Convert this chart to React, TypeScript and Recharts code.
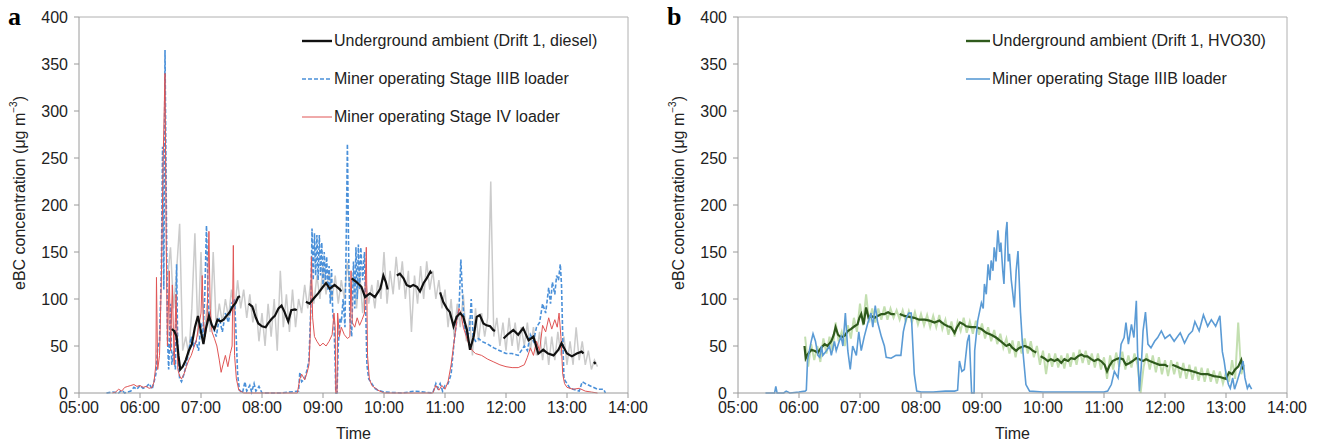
import React from 'react';
import { LineChart, Line, XAxis, YAxis, ReferenceLine } from 'recharts';

// ---------- shared axis data ----------
const timeTicks = [5, 6, 7, 8, 9, 10, 11, 12, 13, 14];
const timeTickLabels = ['05:00', '06:00', '07:00', '08:00', '09:00', '10:00', '11:00', '12:00', '13:00', '14:00'];
const concTicks = [0, 50, 100, 150, 200, 250, 300, 350, 400];

// ---------- panel a ----------
// raw ambient (gray), 3-minute grid starting 06:27
const ambientRawAStart = 6.45;
const ambientRawAStep = 0.05;
const ambientRawA = [
  120, 155, 90, 130, 180, 45, 60, 40, 90, 170, 60, 150, 55, 95, 65, 150, 70, 95, 75, 100,
  80, 110, 85, 120, 90, 110, 80, 105, 75, 95, 55, 85, 50, 95, 60, 100, 45, 130, 70, 105,
  65, 110, 70, 100, 85, 115, 90, 120, 95, 125, 100, 135, 105, 130, 100, 125, 95, 120, 100, 140,
  105, 125, 90, 130, 85, 120, 95, 115, 90, 120, 100, 150, 95, 130, 105, 145, 110, 140, 100, 130,
  65, 125, 95, 135, 100, 140, 110, 130, 100, 120, 90, 110, 70, 100, 60, 95, 70, 105, 55, 80,
  40, 90, 55, 85, 60, 80, 225, 60, 80, 50, 75, 45, 80, 50, 75, 45, 70, 50, 75, 45,
  70, 40, 65, 35, 60, 30, 60, 35, 65, 40, 60, 30, 55, 30, 70, 35, 55, 30, 45, 25,
  35, 28,
];

// smoothed ambient (black) [time in h, value]; null = gap
const ambientA: [number, number | null][] = [
  [6.52, 68], [6.56, 66], [6.6, 60], [6.63, 40], [6.66, 25], [6.7, 28], [6.75, 35], [6.8, 45], [6.85, 52],
  [6.9, 70], [6.95, 82], [7.0, 65], [7.04, 52], [7.08, 68], [7.13, 82], [7.18, 72], [7.22, 68], [7.27, 78],
  [7.32, 76], [7.37, 78], [7.42, 82], [7.47, 86], [7.52, 92], [7.57, 96], [7.61, 102], [7.64, 103],
  [7.7, null],
  [7.78, 95], [7.84, 92], [7.9, 80], [7.94, 74], [8.0, 71], [8.06, 70], [8.1, 74], [8.16, 79], [8.21, 82],
  [8.27, 90], [8.32, 93], [8.37, 86], [8.43, 76], [8.48, 88], [8.54, 89], [8.57, 88],
  [8.65, null],
  [8.72, 97], [8.78, 95], [8.84, 100], [8.92, 106], [9.0, 113], [9.05, 117], [9.11, 111], [9.19, 115],
  [9.28, 110], [9.3, 108],
  [9.4, null],
  [9.47, 122], [9.55, 118], [9.63, 113], [9.69, 102], [9.73, 104], [9.77, 106], [9.85, 102], [9.94, 111],
  [9.99, 125], [10.03, 118], [10.06, 110],
  [10.15, null],
  [10.21, 125], [10.26, 127], [10.32, 122], [10.37, 115], [10.43, 113], [10.48, 115], [10.54, 113],
  [10.59, 108], [10.65, 117], [10.7, 122], [10.76, 129], [10.78, 127],
  [10.85, null],
  [10.92, 107], [10.97, 97], [11.03, 90], [11.08, 86], [11.14, 71], [11.19, 81], [11.25, 85], [11.3, 81],
  [11.36, 67], [11.41, 46], [11.47, 60], [11.52, 81], [11.57, 83], [11.63, 74], [11.68, 72], [11.74, 71],
  [11.79, 67], [11.82, 66],
  [11.9, null],
  [11.96, 58], [12.04, 63], [12.12, 67], [12.2, 62], [12.28, 69], [12.37, 56], [12.45, 60], [12.53, 42],
  [12.61, 46], [12.69, 42], [12.78, 40], [12.86, 46], [12.91, 53], [13.0, 42], [13.08, 39], [13.16, 42],
  [13.24, 44], [13.27, 42],
  [13.35, null],
  [13.44, 33], [13.47, 31],
];

// miner, Stage IIIB loader (blue dashed)
const stageIIIBA: [number, number][] = [
  [5.45, 0], [5.55, 1], [5.65, 0], [5.7, 3], [5.75, 0], [5.85, 2], [5.9, 6], [5.95, 4], [6.0, 8], [6.05, 5],
  [6.1, 6], [6.15, 10], [6.2, 4], [6.23, 12], [6.26, 20], [6.29, 48], [6.32, 55], [6.35, 130], [6.37, 262],
  [6.39, 110], [6.41, 365], [6.43, 210], [6.45, 60], [6.47, 25], [6.5, 95], [6.52, 30], [6.55, 45],
  [6.58, 25], [6.6, 137], [6.62, 40], [6.65, 15], [6.68, 12], [6.72, 20], [6.76, 30], [6.8, 45], [6.84, 60],
  [6.88, 50], [6.92, 55], [6.96, 45], [7.0, 75], [7.03, 60], [7.06, 100], [7.09, 178], [7.12, 95],
  [7.15, 75], [7.2, 70], [7.25, 60], [7.3, 80], [7.35, 65], [7.4, 85], [7.45, 75], [7.5, 95], [7.55, 100],
  [7.58, 55], [7.6, 20], [7.63, 3], [7.68, 0], [7.72, 12], [7.75, 2], [7.8, 8], [7.83, 1], [7.87, 10],
  [7.9, 2], [7.95, 7], [8.0, 0], [8.3, 0], [8.6, 2], [8.62, 22], [8.65, 12], [8.7, 15], [8.74, 25],
  [8.77, 35], [8.8, 90], [8.82, 175], [8.84, 120], [8.86, 170], [8.88, 125], [8.9, 168], [8.92, 120],
  [8.94, 168], [8.96, 125], [8.98, 160], [9.0, 115], [9.02, 150], [9.04, 120], [9.06, 145], [9.08, 110],
  [9.1, 135], [9.12, 95], [9.14, 132], [9.16, 85], [9.18, 75], [9.2, 30], [9.21, 0], [9.23, 0], [9.25, 50],
  [9.28, 80], [9.3, 75], [9.33, 100], [9.36, 70], [9.38, 160], [9.4, 265], [9.42, 150], [9.44, 80],
  [9.47, 60], [9.5, 140], [9.52, 90], [9.54, 155], [9.56, 100], [9.58, 158], [9.6, 110], [9.62, 155],
  [9.65, 120], [9.68, 150], [9.7, 90], [9.72, 30], [9.75, 15], [9.8, 10], [9.85, 5], [9.9, 3], [10.0, 1],
  [10.3, 0], [10.5, 2], [10.8, 0], [10.85, 10], [10.88, 5], [10.92, 10], [10.96, 2], [11.0, 8], [11.05, 10],
  [11.1, 20], [11.15, 55], [11.2, 80], [11.23, 90], [11.26, 142], [11.29, 100], [11.32, 70], [11.36, 60],
  [11.4, 65], [11.43, 100], [11.46, 60], [11.5, 55], [11.55, 58], [11.6, 55], [11.7, 52], [11.8, 48],
  [11.9, 45], [12.0, 42], [12.1, 42], [12.2, 40], [12.3, 50], [12.35, 45], [12.4, 62], [12.45, 55],
  [12.5, 70], [12.55, 75], [12.6, 95], [12.65, 85], [12.7, 112], [12.73, 95], [12.76, 118], [12.8, 105],
  [12.83, 125], [12.86, 120], [12.89, 137], [12.91, 115], [12.93, 60], [12.95, 15], [13.0, 10], [13.05, 5],
  [13.1, 4], [13.2, 2], [13.25, 12], [13.3, 10], [13.4, 7], [13.5, 4], [13.6, 4], [13.63, 0],
];

// miner, Stage IV loader (red)
const stageIVA: [number, number][] = [
  [5.55, 0], [5.6, 1], [5.65, 4], [5.7, 2], [5.75, 6], [5.8, 7], [5.85, 8], [5.9, 9], [5.95, 7], [6.0, 8],
  [6.05, 6], [6.1, 7], [6.15, 5], [6.2, 6], [6.23, 12], [6.26, 30], [6.27, 123], [6.29, 25], [6.32, 40],
  [6.35, 120], [6.38, 250], [6.41, 340], [6.43, 160], [6.45, 50], [6.48, 130], [6.5, 45], [6.53, 115],
  [6.56, 30], [6.59, 105], [6.62, 25], [6.65, 18], [6.68, 15], [6.72, 20], [6.76, 28], [6.8, 35], [6.84, 40],
  [6.88, 48], [6.92, 55], [6.96, 70], [7.0, 85], [7.02, 125], [7.04, 75], [7.07, 60], [7.1, 80], [7.13, 172],
  [7.15, 90], [7.18, 65], [7.22, 58], [7.26, 50], [7.3, 35], [7.33, 22], [7.36, 30], [7.4, 40], [7.44, 28],
  [7.48, 42], [7.51, 50], [7.53, 157], [7.55, 40], [7.58, 15], [7.62, 3], [7.7, 0], [8.3, 0], [8.58, 0],
  [8.62, 15], [8.65, 20], [8.7, 14], [8.74, 22], [8.77, 30], [8.79, 60], [8.81, 145], [8.83, 80], [8.86, 60],
  [8.9, 55], [8.95, 50], [9.0, 53], [9.05, 50], [9.1, 55], [9.15, 62], [9.18, 85], [9.2, 70], [9.21, 0],
  [9.23, 0], [9.24, 85], [9.27, 60], [9.3, 70], [9.35, 62], [9.4, 58], [9.44, 60], [9.46, 130], [9.48, 75],
  [9.52, 70], [9.56, 80], [9.6, 72], [9.64, 78], [9.68, 85], [9.71, 155], [9.73, 40], [9.76, 15], [9.8, 8],
  [9.9, 3], [10.0, 0], [10.8, 0], [10.85, 8], [10.9, 3], [10.95, 8], [11.0, 4], [11.05, 12], [11.1, 30],
  [11.15, 55], [11.2, 80], [11.23, 90], [11.26, 85], [11.3, 70], [11.35, 60], [11.4, 50], [11.45, 45],
  [11.5, 42], [11.6, 40], [11.7, 36], [11.8, 33], [11.9, 30], [12.0, 28], [12.1, 27], [12.2, 27], [12.3, 30],
  [12.35, 38], [12.4, 48], [12.45, 40], [12.5, 55], [12.55, 45], [12.6, 72], [12.65, 65], [12.7, 80],
  [12.75, 68], [12.8, 78], [12.84, 70], [12.87, 85], [12.9, 60], [12.93, 20], [12.96, 10], [13.0, 6],
  [13.1, 4], [13.2, 5], [13.3, 2], [13.4, 1], [13.5, 0],
];

// ---------- panel b ----------
const ambientRawBStart = 6.1;
const ambientRawBStep = 0.05;
const ambientRawB = [
  60, 28, 52, 35, 50, 33, 58, 42, 60, 45, 75, 55, 65, 50, 72, 58, 80, 65, 95, 72,
  105, 75, 90, 75, 90, 78, 92, 78, 90, 80, 88, 78, 88, 76, 87, 75, 86, 73, 84, 72,
  83, 70, 82, 70, 83, 68, 78, 62, 76, 60, 76, 66, 80, 64, 76, 63, 77, 62, 74, 58,
  70, 55, 67, 52, 63, 48, 58, 42, 56, 38, 55, 42, 58, 42, 55, 38, 50, 30, 45, 20,
  42, 28, 42, 27, 40, 26, 42, 28, 43, 30, 46, 32, 45, 30, 42, 27, 42, 25, 38, 15,
  40, 25, 43, 28, 44, 25, 40, 27, 42, 30, 0, 28, 42, 25, 40, 22, 38, 20, 35, 18,
  35, 20, 33, 16, 32, 15, 30, 14, 28, 13, 27, 12, 26, 12, 24, 10, 23, 10, 22, 12,
  35, 15, 75, 20, 30,
];

const ambientB: [number, number | null][] = [
  [6.09, 50], [6.11, 37], [6.14, 41], [6.2, 46], [6.25, 45], [6.31, 43], [6.36, 48], [6.42, 52], [6.47, 50],
  [6.53, 55], [6.57, 62], [6.6, 70], [6.64, 62], [6.69, 59], [6.75, 61], [6.8, 66], [6.85, 68], [6.91, 71],
  [6.96, 73], [6.99, 80], [7.02, 84], [7.06, 73], [7.1, 91], [7.14, 80], [7.18, 82], [7.24, 80], [7.29, 82],
  [7.35, 84], [7.4, 84], [7.46, 86], [7.51, 84], [7.57, 84],
  [7.61, null],
  [7.65, 84], [7.73, 82], [7.81, 81], [7.89, 80], [7.97, 78], [8.06, 78], [8.14, 77], [8.22, 75], [8.3, 77],
  [8.38, 73], [8.44, 71], [8.49, 70], [8.55, 64], [8.59, 70], [8.64, 75], [8.7, 73], [8.74, 71], [8.82, 70],
  [8.9, 70], [8.99, 68], [9.07, 64], [9.15, 62], [9.23, 59], [9.31, 55], [9.4, 50], [9.45, 52], [9.5, 48],
  [9.56, 45], [9.61, 48], [9.7, 50], [9.78, 48], [9.83, 45], [9.89, 43],
  [9.93, null],
  [9.96, 39], [10.02, 37], [10.08, 34], [10.13, 36], [10.19, 34], [10.24, 36], [10.3, 32], [10.35, 36],
  [10.41, 34], [10.46, 37], [10.52, 36], [10.57, 39], [10.63, 41], [10.68, 39], [10.73, 39], [10.79, 36],
  [10.84, 34], [10.9, 36], [10.95, 34], [11.01, 30], [11.05, 23], [11.09, 29], [11.14, 34], [11.2, 36],
  [11.25, 37], [11.31, 36], [11.36, 30], [11.42, 32], [11.47, 34], [11.53, 37], [11.58, 36], [11.64, 34],
  [11.69, 36], [11.75, 34], [11.83, 32], [11.91, 30], [12.0, 30], [12.05, 28],
  [12.08, null],
  [12.12, 30], [12.2, 28], [12.3, 25], [12.4, 24], [12.5, 22], [12.6, 20], [12.7, 20], [12.8, 18], [12.9, 17],
  [13.0, 15], [13.05, 22], [13.1, 20], [13.15, 25], [13.2, 28], [13.25, 35], [13.28, 25],
];

const stageIIIBB: [number, number][] = [
  [5.45, 0], [5.6, 0], [5.62, 7], [5.64, 0], [5.75, 0], [5.79, 2], [5.85, 0], [6.0, 1], [6.1, 2], [6.12, 3],
  [6.14, 35], [6.17, 45], [6.2, 55], [6.23, 63], [6.27, 55], [6.31, 40], [6.34, 38], [6.37, 50], [6.39, 40],
  [6.45, 45], [6.5, 50], [6.53, 40], [6.58, 55], [6.61, 45], [6.66, 55], [6.69, 60], [6.72, 50], [6.76, 85],
  [6.8, 45], [6.84, 25], [6.88, 50], [6.94, 40], [6.98, 65], [7.02, 45], [7.07, 60], [7.13, 75], [7.18, 85],
  [7.21, 70], [7.25, 93], [7.29, 75], [7.35, 60], [7.4, 50], [7.43, 38], [7.51, 37], [7.59, 40], [7.67, 40],
  [7.71, 65], [7.76, 80], [7.8, 85], [7.84, 85], [7.89, 20], [7.93, 2], [8.0, 1], [8.2, 1], [8.4, 2],
  [8.55, 2], [8.6, 3], [8.63, 34], [8.67, 23], [8.71, 25], [8.76, 55], [8.79, 62], [8.83, 0], [8.87, 0],
  [8.88, 45], [8.93, 77], [8.99, 96], [9.02, 90], [9.04, 116], [9.07, 105], [9.1, 137], [9.13, 120],
  [9.15, 141], [9.18, 130], [9.2, 155], [9.23, 140], [9.26, 173], [9.29, 150], [9.31, 160], [9.34, 130],
  [9.36, 116], [9.39, 170], [9.41, 182], [9.43, 140], [9.45, 148], [9.48, 120], [9.5, 109], [9.53, 91],
  [9.56, 130], [9.59, 151], [9.61, 120], [9.63, 87], [9.67, 45], [9.72, 9], [9.78, 2], [10.0, 1],
  [10.5, 1], [11.0, 1], [11.06, 2], [11.12, 9], [11.17, 23], [11.23, 16], [11.28, 52], [11.33, 59],
  [11.36, 75], [11.4, 52], [11.45, 73], [11.49, 59], [11.53, 98], [11.55, 45], [11.58, 2], [11.61, 27],
  [11.64, 66], [11.68, 86], [11.72, 52], [11.77, 48], [11.83, 55], [11.88, 59], [11.94, 66], [12.0, 58],
  [12.08, 62], [12.15, 55], [12.25, 64], [12.32, 53], [12.39, 62], [12.45, 66], [12.49, 76], [12.56, 66],
  [12.63, 83], [12.7, 71], [12.76, 78], [12.83, 71], [12.9, 82], [12.94, 44], [12.97, 34], [13.0, 20],
  [13.04, 9], [13.07, 5], [13.11, 16], [13.14, 4], [13.18, 12], [13.25, 27], [13.28, 34], [13.31, 16],
  [13.35, 5], [13.38, 9], [13.42, 4],
];

// ---------- helpers ----------
const FONT = '"Liberation Sans", Arial, sans-serif';
const FS = 16;
const toRows = (arr: [number, number | null][]) => arr.map(([t, v]) => ({ t, v }));
const gridRows = (start: number, step: number, vals: number[]) =>
  vals.map((v, i) => ({ t: Math.round((start + i * step) * 1000) / 1000, v }));
const fmtTime = (t: number) => timeTickLabels[timeTicks.indexOf(t)] ?? '';

const W = 659;
const H = 441;

const YLabel = (props: any) => {
  const { viewBox } = props;
  const cy = viewBox.y + viewBox.height / 2 - 12;
  const cx = 19;
  return (
    <text
      transform={`translate(${cx},${cy}) rotate(-90)`}
      textAnchor="middle"
      dominantBaseline="central"
      fontFamily={FONT}
      fontSize={FS}
      fill="#222"
    >
      eBC concentration (μg m<tspan dy={-6} fontSize={10}>−3</tspan>
      <tspan dy={6}>)</tspan>
    </text>
  );
};

const TimeLabel = (props: any) => {
  const { viewBox } = props;
  return (
    <text
      x={viewBox.x + viewBox.width / 2}
      y={433}
      textAnchor="middle"
      dominantBaseline="central"
      fontFamily={FONT}
      fontSize={FS}
      fill="#222"
    >
      Time
    </text>
  );
};

type LegendItem = { label: string; color: string; dash?: string; width: number };

const LegendBox = ({
  items,
  left,
  top,
  sample,
}: {
  items: LegendItem[];
  left: number;
  top: number;
  sample: number;
}) => (
  <div style={{ position: 'absolute', left, top, fontFamily: FONT, fontSize: FS, color: '#222' }}>
    {items.map((it, i) => (
      <div key={i} style={{ height: 38, display: 'flex', alignItems: 'center' }}>
        <svg width={sample} height={10} style={{ marginRight: 2 }}>
          <line x1={0} x2={sample} y1={5} y2={5} stroke={it.color} strokeWidth={it.width} strokeDasharray={it.dash} />
        </svg>
        <span style={{ whiteSpace: 'nowrap' }}>{it.label}</span>
      </div>
    ))}
  </div>
);

function Panel({
  letter,
  children,
  legend,
}: {
  letter: string;
  children: React.ReactNode;
  legend: React.ReactNode;
}) {
  return (
    <div style={{ position: 'relative', width: W, height: H }}>
      <div
        style={{
          position: 'absolute',
          left: 8,
          top: 2,
          fontFamily: '"Liberation Serif", "Times New Roman", serif',
          fontWeight: 'bold',
          fontSize: 26,
          color: '#000',
        }}
      >
        {letter}
      </div>
      {children}
      {legend}
    </div>
  );
}

const axisCommon = {
  stroke: '#9a9a9a',
  tick: { fill: '#222', fontSize: FS, fontFamily: FONT },
  tickLine: { stroke: '#9a9a9a' },
};

function ChartFrame({ children }: { children: React.ReactNode }) {
  return (
    <LineChart width={W} height={H} margin={{ top: 17, right: 31, left: 0, bottom: 0 }}>
      <XAxis
        type="number"
        dataKey="t"
        domain={[5, 14]}
        ticks={timeTicks}
        tickFormatter={fmtTime}
        allowDuplicatedCategory={false}
        height={48}
        tickSize={5}
        tickMargin={4}
        interval={0}
        {...axisCommon}
        label={<TimeLabel />}
      />
      <YAxis
        type="number"
        domain={[0, 400]}
        ticks={concTicks}
        width={79}
        tickSize={5}
        tickMargin={6}
        interval={0}
        {...axisCommon}
        label={<YLabel />}
      />
      <ReferenceLine y={400} stroke="#b0b0b0" ifOverflow="extendDomain" />
      <ReferenceLine x={14} stroke="#b0b0b0" ifOverflow="extendDomain" />
      {children}
    </LineChart>
  );
}

export default function App() {
  const grayA = gridRows(ambientRawAStart, ambientRawAStep, ambientRawA);
  const greenRawB = gridRows(ambientRawBStart, ambientRawBStep, ambientRawB);

  return (
    <div style={{ position: 'absolute', left: 0, top: 0, width: 1318, height: 441, display: 'flex', background: '#fff' }}>
      <Panel
        letter="a"
        legend={
          <LegendBox
            left={302}
            top={22}
            sample={30}
            items={[
              { label: 'Underground ambient (Drift 1, diesel)', color: '#111', width: 2.4 },
              { label: 'Miner operating Stage IIIB loader', color: '#4a90d9', width: 1.6, dash: '4 2' },
              { label: 'Miner operating Stage IV loader', color: '#e05555', width: 1 },
            ]}
          />
        }
      >
        <ChartFrame>
          <Line data={grayA} dataKey="v" stroke="#cbcbcb" strokeWidth={1.5} dot={false} isAnimationActive={false} />
          <Line data={toRows(stageIIIBA)} dataKey="v" stroke="#4a90d9" strokeWidth={1.6} strokeDasharray="4 2" dot={false} isAnimationActive={false} />
          <Line data={toRows(stageIVA)} dataKey="v" stroke="#e05555" strokeWidth={1} dot={false} isAnimationActive={false} />
          <Line data={toRows(ambientA)} dataKey="v" stroke="#111" strokeWidth={2.2} dot={false} connectNulls={false} isAnimationActive={false} />
        </ChartFrame>
      </Panel>
      <Panel
        letter="b"
        legend={
          <LegendBox
            left={307}
            top={22}
            sample={24}
            items={[
              { label: 'Underground ambient (Drift 1, HVO30)', color: '#2f5a1c', width: 2.4 },
              { label: 'Miner operating Stage IIIB loader', color: '#5b9bd5', width: 1.6 },
            ]}
          />
        }
      >
        <ChartFrame>
          <Line data={greenRawB} dataKey="v" stroke="#c3dfb0" strokeWidth={2} dot={false} isAnimationActive={false} />
          <Line data={toRows(ambientB)} dataKey="v" stroke="#2f5a1c" strokeWidth={2.2} dot={false} connectNulls={false} isAnimationActive={false} />
          <Line data={toRows(stageIIIBB)} dataKey="v" stroke="#5b9bd5" strokeWidth={1.6} dot={false} isAnimationActive={false} />
        </ChartFrame>
      </Panel>
    </div>
  );
}
